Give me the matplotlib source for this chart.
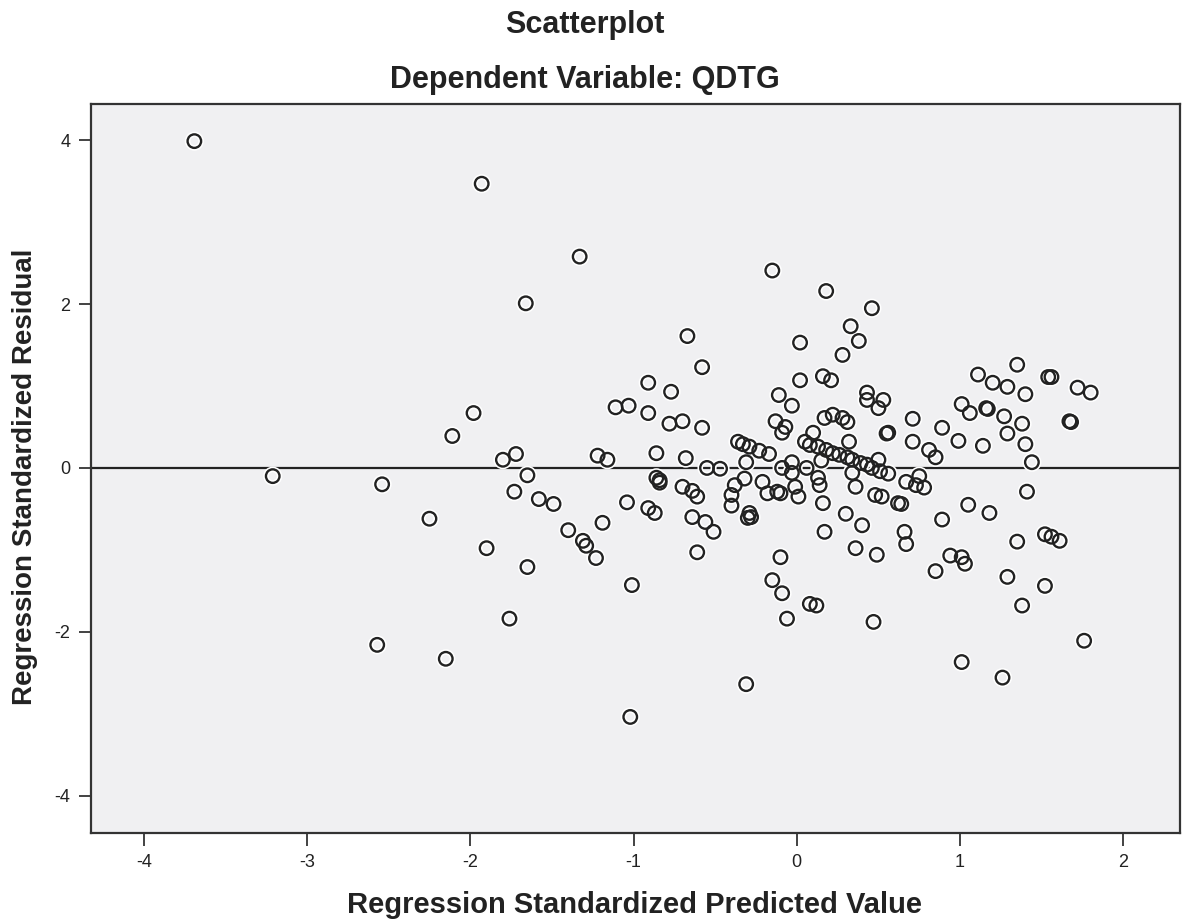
import matplotlib
matplotlib.use("Agg")
import matplotlib.pyplot as plt

# standardized predicted value (x) and standardized residual (y)
pred = [-3.69, -1.93, -1.33, -1.66, -1.98, -2.11, -3.21, -2.54, -2.25, -2.57,
        -2.15, -1.90, -1.76, -1.65, -1.72, -1.80, -1.73, -1.65, -1.58, -1.49,
        -1.40, -1.31, -1.29, -1.23, -1.19, -1.22, -1.16, -1.11, -1.03, -1.01,
        -1.04, -0.91, -0.77, -0.91, -0.86, -0.91, -0.87, -0.86, -0.84, -0.84,
        -0.78, -0.70, -0.68, -0.67, -0.58, -0.58, -0.70, -0.64, -0.61, -0.64,
        -0.56, -0.51, -0.61, -1.02, -0.55, -0.47, -0.36, -0.33, -0.29, -0.23,
        -0.17, -0.31, -0.32, -0.38, -0.40, -0.40, -0.29, -0.28, -0.30, -0.31,
        -0.21, -0.18, -0.12, -0.10, -0.15, -0.11, -0.03, -0.13, -0.07, -0.09,
        -0.09, -0.03, -0.03, -0.01, 0.01, -0.10, -0.15, -0.09, -0.06, 0.02,
        0.02, 0.06, 0.10, 0.05, 0.08, 0.13, 0.18, 0.22, 0.26, 0.31,
        0.34, 0.39, 0.43, 0.46, 0.51, 0.56, 0.15, 0.13, 0.14, 0.16,
        0.17, 0.08, 0.12, 0.18, 0.46, 0.33, 0.38, 0.28, 0.16, 0.21,
        0.17, 0.22, 0.28, 0.31, 0.32, 0.36, 0.48, 0.52, 0.30, 0.40,
        0.36, 0.49, 0.43, 0.43, 0.53, 0.50, 0.56, 0.55, 0.62, 0.64,
        0.47, 0.71, 0.71, 0.89, 0.99, 0.81, 0.85, 1.01, 1.06, 1.17,
        1.16, 1.27, 1.14, 1.29, 1.38, 1.40, 1.44, 1.40, 1.68, 1.67,
        1.20, 1.29, 1.11, 1.35, 1.54, 1.56, 1.72, 1.80, 0.50, 0.67,
        0.75, 0.73, 0.78, 1.05, 1.18, 0.89, 1.41, 0.66, 0.67, 1.52,
        1.56, 1.61, 1.35, 0.94, 1.01, 1.03, 0.85, 1.29, 1.52, 1.38,
        1.76, 1.01, 1.26, 0.34]
resid = [3.99, 3.47, 2.58, 2.01, 0.67, 0.39, -0.10, -0.20, -0.62, -2.16,
         -2.33, -0.98, -1.84, -1.21, 0.17, 0.10, -0.29, -0.09, -0.38, -0.44,
         -0.76, -0.89, -0.95, -1.10, -0.67, 0.15, 0.10, 0.74, 0.76, -1.43,
         -0.42, 1.04, 0.93, 0.67, 0.18, -0.49, -0.55, -0.12, -0.18, -0.15,
         0.54, 0.57, 0.12, 1.61, 1.23, 0.49, -0.23, -0.28, -0.35, -0.60,
         -0.66, -0.78, -1.03, -3.04, 0.00, -0.01, 0.32, 0.29, 0.26, 0.21,
         0.17, 0.07, -0.13, -0.21, -0.33, -0.46, -0.55, -0.60, -0.61, -2.64,
         -0.17, -0.31, -0.29, -0.31, 2.41, 0.89, 0.76, 0.57, 0.50, 0.43,
         0.00, 0.07, -0.06, -0.23, -0.35, -1.09, -1.37, -1.53, -1.84, 1.53,
         1.07, 0.00, 0.43, 0.32, 0.28, 0.26, 0.22, 0.18, 0.16, 0.13,
         0.10, 0.06, 0.04, 0.00, -0.04, -0.07, 0.09, -0.12, -0.21, -0.43,
         -0.78, -1.66, -1.68, 2.16, 1.95, 1.73, 1.55, 1.38, 1.12, 1.07,
         0.61, 0.65, 0.61, 0.56, 0.32, -0.23, -0.33, -0.35, -0.56, -0.70,
         -0.98, -1.06, 0.92, 0.83, 0.83, 0.73, 0.43, 0.42, -0.43, -0.44,
         -1.88, 0.60, 0.32, 0.49, 0.33, 0.22, 0.13, 0.78, 0.67, 0.72,
         0.73, 0.63, 0.27, 0.42, 0.54, 0.29, 0.07, 0.90, 0.56, 0.57,
         1.04, 0.99, 1.14, 1.26, 1.11, 1.11, 0.98, 0.92, 0.10, -0.17,
         -0.10, -0.21, -0.24, -0.45, -0.55, -0.63, -0.29, -0.78, -0.93, -0.81,
         -0.84, -0.89, -0.90, -1.07, -1.09, -1.17, -1.26, -1.33, -1.44, -1.68,
         -2.11, -2.37, -2.56, -0.06]

x_ticks = [-4, -3, -2, -1, 0, 1, 2]
y_ticks = [-4, -2, 0, 2, 4]

plt.rcParams['font.family'] = ['Liberation Sans', 'DejaVu Sans']

fig = plt.figure(figsize=(11.82, 9.24), dpi=100)
ax = fig.add_axes([0.077, 0.0985, 0.921, 0.789])
ax.set_facecolor('#f0f0f2')

# white halo underneath, like SPSS draws its markers
ax.scatter(pred, resid, s=95, facecolors='none', edgecolors='white', linewidths=4, zorder=2)
ax.scatter(pred, resid, s=95, facecolors='none', edgecolors='#222222', linewidths=1.7, zorder=3)
ax.axhline(0, color='#222222', lw=1.6, zorder=1)

ax.set_xlim(-4.323, 2.345)
ax.set_ylim(-4.457, 4.444)
ax.set_xticks(x_ticks)
ax.set_yticks(y_ticks)
ax.set_xticklabels([str(t) for t in x_ticks])
ax.set_yticklabels([str(t) for t in y_ticks])
ax.tick_params(direction='out', length=9, width=1.2, labelsize=13, colors='#222222', pad=6)
for sp in ax.spines.values():
    sp.set_linewidth(1.6)
    sp.set_color('#333333')

fig.text(0.495, 1 - 25 / 924, 'Scatterplot', ha='center', va='center',
         fontsize=22, fontweight='bold', color='#222222')
fig.text(0.495, 1 - 80 / 924, 'Dependent Variable: QDTG', ha='center', va='center',
         fontsize=22, fontweight='bold', color='#222222')
fig.text(0.537, 1 - 905 / 924, 'Regression Standardized Predicted Value', ha='center', va='center',
         fontsize=21, fontweight='bold', color='#222222')
fig.text(0.021, 1 - 477 / 924, 'Regression Standardized Residual', ha='center', va='center',
         rotation=90, fontsize=20, fontweight='bold', color='#222222')

fig.savefig('out.png', dpi=100)
